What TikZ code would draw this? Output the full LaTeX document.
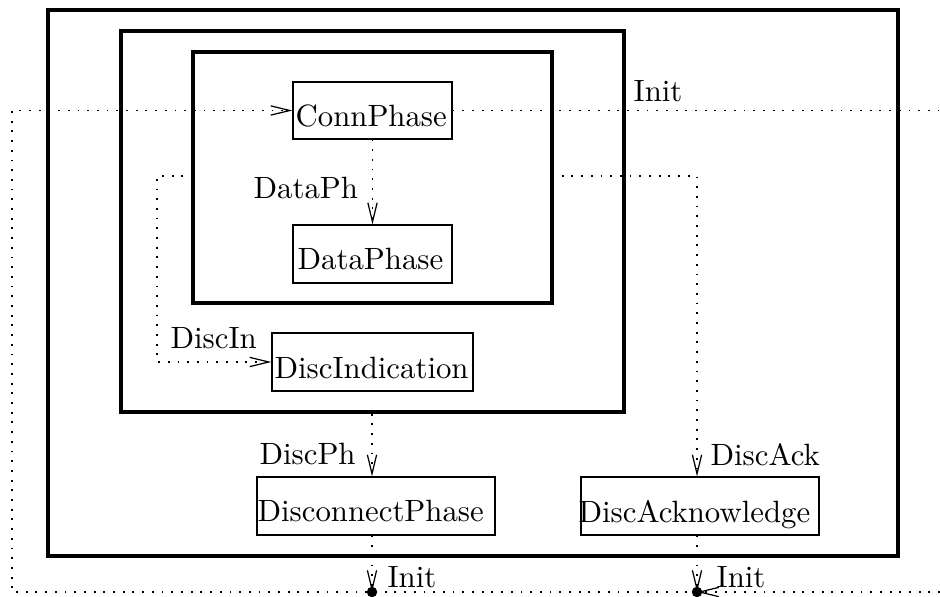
\documentclass[tikz,border=0pt]{standalone}
\usetikzlibrary{arrows.meta,fit}
\begin{document}
\begin{tikzpicture}[x=0.3247pt,y=-0.3247pt,
  frame/.style={draw, line width=1.1pt, inner sep=0pt},
  statebox/.style={draw, line width=0.35pt, inner sep=0pt},
  lbl/.style={anchor=base west, inner sep=0pt},
  trn/.style={line width=0.5pt, dash pattern=on 0.6pt off 2.55pt},
  tr/.style={trn, -{Straight Barb[length=6.2pt,width=3pt,line width=0.4pt]}},
  junction/.style={circle, fill, inner sep=0pt, minimum size=3.4pt}]
\useasboundingbox (0,0) rectangle (940,596);

% nested superstates
\node[frame, fit={(48,10) (898,556)}] (outer) {};
\node[frame, fit={(121,31) (624,412)}] (mid) {};
\node[frame, fit={(193,52) (552,303)}] (inner) {};

% states
\node[statebox, fit={(293,82) (452,139)}] (conn) {};
\node[statebox, fit={(293,225) (452,283)}] (data) {};
\node[statebox, fit={(272,333) (473,391)}] (dind) {};
\node[statebox, fit={(257,477) (495,535)}] (disc) {};
\node[statebox, fit={(581,477) (819,535)}] (dack) {};

\node[lbl] (connT) at (295,127) {ConnPhase};
\node[lbl] (dataT) at (297,270) {DataPhase};
\node[lbl] (dindT) at (274,378) {DiscIndication};
\node[lbl] (discT) at (257,521) {DisconnectPhase};
\node[lbl] (dackT) at (578,522) {DiscAcknowledge};

% junction points
\node[junction] (dotA) at (372,592) {};
\node[junction] (dotB) at (697,592) {};

% helper coordinates
\coordinate (phCol) at (372,0);
\coordinate (ackCol) at (697,0);
\coordinate (dinA) at (193,176);
\coordinate (dackA) at (552,176);
\coordinate (rightTop) at (940,110.5);
\coordinate (rightBot) at (940,592);
\coordinate (leftBot) at (12,592);

% transitions
\draw[tr] (conn.south) -- (data.north);
\draw[tr] (dinA) -- ++(-36,0) |- (dind.west);
\draw[tr] (dackA) -| (ackCol |- dack.north);
\draw[tr] (phCol |- mid.south) -- (phCol |- disc.north);
\draw[tr] (phCol |- disc.south) -- (dotA.center);
\draw[tr] (ackCol |- dack.south) -- (dotB.center);
\draw[trn] (conn.east) -- (rightTop);
\draw[tr] (rightBot) -- (dotB.center);
\draw[tr] (dotB.center) -- (leftBot) |- (conn.west);

% transition labels
\node[lbl] (lInitTop) at (633,102) {Init};
\node[lbl] (lData) at (253,198) {DataPh};
\node[lbl] (lDiscIn) at (170,348) {DiscIn};
\node[lbl] (lDiscPh) at (259,464) {DiscPh};
\node[lbl] (lDiscAck) at (710,465) {DiscAck};
\node[lbl] (lInitA) at (387,587) {Init};
\node[lbl] (lInitB) at (716,587) {Init};
\end{tikzpicture}
\end{document}
